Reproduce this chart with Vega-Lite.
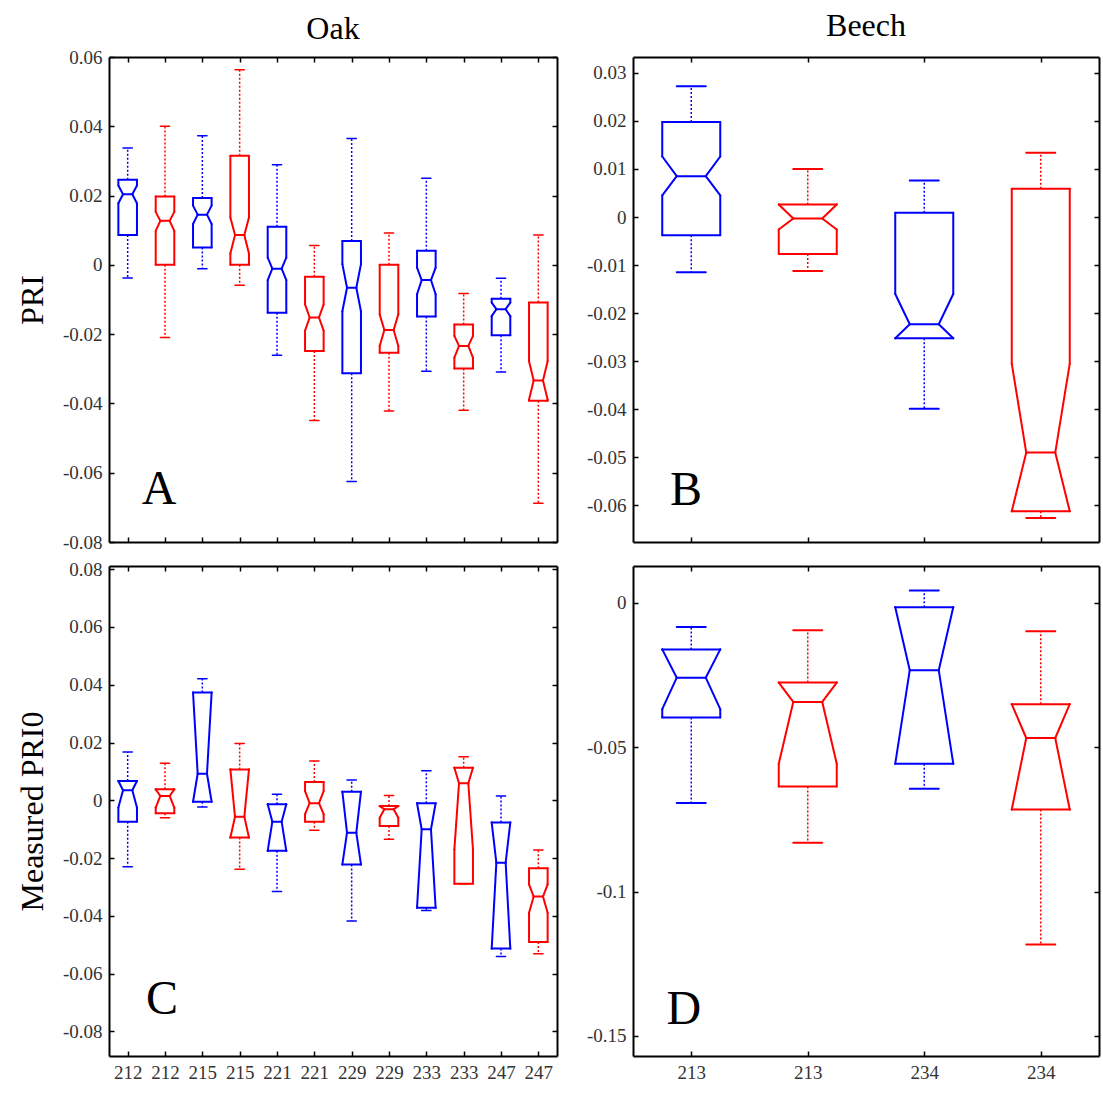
{
"$schema": "https://vega.github.io/schema/vega-lite/v6.json",
"background": "white",
"padding": {"left": 16, "top": 10, "right": 2, "bottom": 2},
"config": {
  "view": {"stroke": null},
  "axis": {"domainColor": "black", "domainWidth": 2, "tickColor": "black", "tickWidth": 1.5, "tickSize": -5, "grid": false,
    "labelFont": "Liberation Serif", "labelFontSize": 19, "labelColor": "#333333", "labelPadding": 12,
    "titleFont": "Liberation Serif", "titleFontSize": 32, "titleFontWeight": "normal", "titleColor": "black", "titlePadding": 13},
  "rule": {"strokeWidth": 2, "strokeCap": "round"},
  "title": {"font": "Liberation Serif", "fontSize": 32, "fontWeight": "normal", "color": "black", "anchor": "middle", "offset": 14}
},
"datasets": {
  "oak_pri": [
    {"pos": 1, "series": "S1", "wlo": -0.0038, "q1": 0.0086, "nlo": 0.0178, "med": 0.0204, "nhi": 0.0229, "q3": 0.0246, "whi": 0.0337},
    {"pos": 2, "series": "S2", "wlo": -0.0210, "q1": 0.0000, "nlo": 0.0098, "med": 0.0127, "nhi": 0.0153, "q3": 0.0197, "whi": 0.0400},
    {"pos": 3, "series": "S1", "wlo": -0.0011, "q1": 0.0050, "nlo": 0.0118, "med": 0.0145, "nhi": 0.0171, "q3": 0.0193, "whi": 0.0373},
    {"pos": 4, "series": "S2", "wlo": -0.0059, "q1": 0.0000, "nlo": 0.0033, "med": 0.0086, "nhi": 0.0137, "q3": 0.0315, "whi": 0.0563},
    {"pos": 5, "series": "S1", "wlo": -0.0261, "q1": -0.0138, "nlo": -0.0044, "med": -0.0011, "nhi": 0.0021, "q3": 0.0110, "whi": 0.0289},
    {"pos": 6, "series": "S2", "wlo": -0.0449, "q1": -0.0249, "nlo": -0.0190, "med": -0.0152, "nhi": -0.0114, "q3": -0.0034, "whi": 0.0056},
    {"pos": 7, "series": "S1", "wlo": -0.0625, "q1": -0.0313, "nlo": -0.0134, "med": -0.0066, "nhi": 0.0002, "q3": 0.0069, "whi": 0.0365},
    {"pos": 8, "series": "S2", "wlo": -0.0422, "q1": -0.0254, "nlo": -0.0234, "med": -0.0188, "nhi": -0.0143, "q3": 0.0000, "whi": 0.0092},
    {"pos": 9, "series": "S1", "wlo": -0.0307, "q1": -0.0149, "nlo": -0.0085, "med": -0.0044, "nhi": -0.0008, "q3": 0.0041, "whi": 0.0250},
    {"pos": 10, "series": "S2", "wlo": -0.0420, "q1": -0.0299, "nlo": -0.0268, "med": -0.0234, "nhi": -0.0205, "q3": -0.0172, "whi": -0.0083},
    {"pos": 11, "series": "S1", "wlo": -0.0309, "q1": -0.0203, "nlo": -0.0148, "med": -0.0128, "nhi": -0.0109, "q3": -0.0098, "whi": -0.0039},
    {"pos": 12, "series": "S2", "wlo": -0.0688, "q1": -0.0392, "nlo": -0.0389, "med": -0.0334, "nhi": -0.0278, "q3": -0.0109, "whi": 0.0086}
  ],
  "beech_pri": [
    {"pos": 1, "series": "S1", "wlo": -0.0115, "q1": -0.0038, "nlo": 0.0045, "med": 0.0085, "nhi": 0.0126, "q3": 0.0198, "whi": 0.0272},
    {"pos": 2, "series": "S2", "wlo": -0.0112, "q1": -0.0077, "nlo": -0.0026, "med": -0.0003, "nhi": 0.0026, "q3": 0.0026, "whi": 0.0100},
    {"pos": 3, "series": "S1", "wlo": -0.0399, "q1": -0.0252, "nlo": -0.0252, "med": -0.0223, "nhi": -0.0160, "q3": 0.0009, "whi": 0.0076},
    {"pos": 4, "series": "S2", "wlo": -0.0626, "q1": -0.0612, "nlo": -0.0612, "med": -0.0490, "nhi": -0.0305, "q3": 0.0059, "whi": 0.0134}
  ],
  "oak_pri0": [
    {"pos": 1, "series": "S1", "wlo": -0.0230, "q1": -0.0074, "nlo": -0.0025, "med": 0.0035, "nhi": 0.0067, "q3": 0.0067, "whi": 0.0167},
    {"pos": 2, "series": "S2", "wlo": -0.0060, "q1": -0.0045, "nlo": -0.0025, "med": 0.0015, "nhi": 0.0038, "q3": 0.0038, "whi": 0.0128},
    {"pos": 3, "series": "S1", "wlo": -0.0023, "q1": -0.0005, "nlo": -0.0005, "med": 0.0092, "nhi": 0.0373, "q3": 0.0373, "whi": 0.0421},
    {"pos": 4, "series": "S2", "wlo": -0.0239, "q1": -0.0129, "nlo": -0.0129, "med": -0.0057, "nhi": 0.0107, "q3": 0.0107, "whi": 0.0197},
    {"pos": 5, "series": "S1", "wlo": -0.0316, "q1": -0.0175, "nlo": -0.0175, "med": -0.0074, "nhi": -0.0014, "q3": -0.0014, "whi": 0.0021},
    {"pos": 6, "series": "S2", "wlo": -0.0104, "q1": -0.0074, "nlo": -0.0048, "med": -0.0010, "nhi": 0.0032, "q3": 0.0063, "whi": 0.0136},
    {"pos": 7, "series": "S1", "wlo": -0.0418, "q1": -0.0222, "nlo": -0.0222, "med": -0.0112, "nhi": 0.0030, "q3": 0.0030, "whi": 0.0070},
    {"pos": 8, "series": "S2", "wlo": -0.0135, "q1": -0.0089, "nlo": -0.0060, "med": -0.0031, "nhi": -0.0020, "q3": -0.0020, "whi": 0.0017},
    {"pos": 9, "series": "S1", "wlo": -0.0381, "q1": -0.0372, "nlo": -0.0372, "med": -0.0100, "nhi": -0.0010, "q3": -0.0010, "whi": 0.0102},
    {"pos": 10, "series": "S2", "wlo": -0.0289, "q1": -0.0289, "nlo": -0.0170, "med": 0.0059, "nhi": 0.0113, "q3": 0.0113, "whi": 0.0151},
    {"pos": 11, "series": "S1", "wlo": -0.0541, "q1": -0.0513, "nlo": -0.0513, "med": -0.0216, "nhi": -0.0077, "q3": -0.0077, "whi": 0.0015},
    {"pos": 12, "series": "S2", "wlo": -0.0531, "q1": -0.0490, "nlo": -0.0389, "med": -0.0333, "nhi": -0.0291, "q3": -0.0235, "whi": -0.0172}
  ],
  "beech_pri0": [
    {"pos": 1, "series": "S1", "wlo": -0.0693, "q1": -0.0397, "nlo": -0.0368, "med": -0.0259, "nhi": -0.0161, "q3": -0.0161, "whi": -0.0083},
    {"pos": 2, "series": "S2", "wlo": -0.0831, "q1": -0.0636, "nlo": -0.0557, "med": -0.0343, "nhi": -0.0276, "q3": -0.0276, "whi": -0.0095},
    {"pos": 3, "series": "S1", "wlo": -0.0644, "q1": -0.0557, "nlo": -0.0557, "med": -0.0233, "nhi": -0.0015, "q3": -0.0015, "whi": 0.0043},
    {"pos": 4, "series": "S2", "wlo": -0.1184, "q1": -0.0716, "nlo": -0.0716, "med": -0.0468, "nhi": -0.0351, "q3": -0.0351, "whi": -0.0098}
  ]
},
"columns": 2,
"bounds": "flush",
"spacing": {"row": 24, "column": 76},
"concat": [
{
  "width": 448, "height": 485,
  "title": {"text": "Oak", "offset": 2},
  "data": {"name": "oak_pri"},
  "encoding": {
    "x": {"field": "pos", "type": "quantitative", "scale": {"domain": [0.5, 12.5], "nice": false, "zero": false}, "axis": null},
    "color": {"field": "series", "type": "nominal", "scale": {"domain": ["S1", "S2"], "range": ["#0000ff", "#ff0000"]}, "legend": null}
  },
  "resolve": {"axis": {"x": "independent", "y": "independent"}},
  "layer": [
    {"mark": {"type": "rule", "strokeDash": [2, 2], "strokeWidth": 1.5, "strokeCap": "butt"},
     "encoding": {
       "x": {"field": "pos", "type": "quantitative", "scale": {"domain": [0.5, 12.5], "nice": false, "zero": false}, "axis": {"orient": "bottom", "values": [1,2,3,4,5,6,7,8,9,10,11,12], "labels": false, "title": null}},
       "y": {"field": "q3", "type": "quantitative", "scale": {"domain": [-0.08, 0.06], "nice": false, "zero": false}, "axis": {"orient": "left", "values": [-0.08,-0.06,-0.04,-0.02,0,0.02,0.04,0.06], "labelExpr": "'' + datum.value", "title": "PRI"}},
       "y2": {"field": "whi"}}},
    {"mark": {"type": "rule", "strokeDash": [2, 2], "strokeWidth": 1.5, "strokeCap": "butt"},
     "encoding": {
       "x": {"field": "pos", "type": "quantitative", "scale": {"domain": [0.5, 12.5], "nice": false, "zero": false}, "axis": {"orient": "top", "values": [1,2,3,4,5,6,7,8,9,10,11,12], "labels": false, "title": null}},
       "y": {"field": "q1", "type": "quantitative", "scale": {"domain": [-0.08, 0.06], "nice": false, "zero": false}, "axis": {"orient": "right", "values": [-0.08,-0.06,-0.04,-0.02,0,0.02,0.04,0.06], "labels": false, "title": null}},
       "y2": {"field": "wlo"}}},
    {"mark": {"type": "rule", "xOffset": -4.65, "x2Offset": 4.65, "strokeWidth": 1.5}, "encoding": {"x2": {"field": "pos"}, "y": {"field": "whi", "type": "quantitative", "axis": null}}},
    {"mark": {"type": "rule", "xOffset": -4.65, "x2Offset": 4.65, "strokeWidth": 1.5}, "encoding": {"x2": {"field": "pos"}, "y": {"field": "wlo", "type": "quantitative", "axis": null}}},
    {"mark": {"type": "rule", "xOffset": -9.3, "x2Offset": 9.3}, "encoding": {"x2": {"field": "pos"}, "y": {"field": "q3", "type": "quantitative", "axis": null}}},
    {"mark": {"type": "rule", "xOffset": -9.3, "x2Offset": 9.3}, "encoding": {"x2": {"field": "pos"}, "y": {"field": "q1", "type": "quantitative", "axis": null}}},
    {"mark": {"type": "rule", "xOffset": -4.65, "x2Offset": 4.65}, "encoding": {"x2": {"field": "pos"}, "y": {"field": "med", "type": "quantitative", "axis": null}}},
    {"mark": {"type": "rule", "xOffset": -9.3, "x2Offset": -9.3}, "encoding": {"x2": {"field": "pos"}, "y": {"field": "q3", "type": "quantitative", "axis": null}, "y2": {"field": "nhi"}}},
    {"mark": {"type": "rule", "xOffset": 9.3, "x2Offset": 9.3}, "encoding": {"x2": {"field": "pos"}, "y": {"field": "q3", "type": "quantitative", "axis": null}, "y2": {"field": "nhi"}}},
    {"mark": {"type": "rule", "xOffset": -9.3, "x2Offset": -9.3}, "encoding": {"x2": {"field": "pos"}, "y": {"field": "q1", "type": "quantitative", "axis": null}, "y2": {"field": "nlo"}}},
    {"mark": {"type": "rule", "xOffset": 9.3, "x2Offset": 9.3}, "encoding": {"x2": {"field": "pos"}, "y": {"field": "q1", "type": "quantitative", "axis": null}, "y2": {"field": "nlo"}}},
    {"mark": {"type": "rule", "xOffset": -9.3, "x2Offset": -4.65}, "encoding": {"x2": {"field": "pos"}, "y": {"field": "nhi", "type": "quantitative", "axis": null}, "y2": {"field": "med"}}},
    {"mark": {"type": "rule", "xOffset": 9.3, "x2Offset": 4.65}, "encoding": {"x2": {"field": "pos"}, "y": {"field": "nhi", "type": "quantitative", "axis": null}, "y2": {"field": "med"}}},
    {"mark": {"type": "rule", "xOffset": -9.3, "x2Offset": -4.65}, "encoding": {"x2": {"field": "pos"}, "y": {"field": "nlo", "type": "quantitative", "axis": null}, "y2": {"field": "med"}}},
    {"mark": {"type": "rule", "xOffset": 9.3, "x2Offset": 4.65}, "encoding": {"x2": {"field": "pos"}, "y": {"field": "nlo", "type": "quantitative", "axis": null}, "y2": {"field": "med"}}},
    {"data": {"values": [{"letter": "A", "lx": 1.84, "ly": -0.069}]},
     "mark": {"type": "text", "font": "Liberation Serif", "fontSize": 48, "align": "center", "baseline": "alphabetic"},
     "encoding": {"x": {"field": "lx", "type": "quantitative", "axis": null}, "y": {"field": "ly", "type": "quantitative", "axis": null}, "text": {"field": "letter"}, "color": {"value": "black"}}}
  ]
},
{
  "width": 466, "height": 485,
  "title": {"text": "Beech", "offset": 13},
  "data": {"name": "beech_pri"},
  "encoding": {
    "x": {"field": "pos", "type": "quantitative", "scale": {"domain": [0.5, 4.5], "nice": false, "zero": false}, "axis": null},
    "color": {"field": "series", "type": "nominal", "scale": {"domain": ["S1", "S2"], "range": ["#0000ff", "#ff0000"]}, "legend": null}
  },
  "resolve": {"axis": {"x": "independent", "y": "independent"}},
  "layer": [
    {"mark": {"type": "rule", "strokeDash": [2, 2], "strokeWidth": 1.5, "strokeCap": "butt"},
     "encoding": {
       "x": {"field": "pos", "type": "quantitative", "scale": {"domain": [0.5, 4.5], "nice": false, "zero": false}, "axis": {"orient": "bottom", "values": [1,2,3,4], "labels": false, "title": null}},
       "y": {"field": "q3", "type": "quantitative", "scale": {"domain": [-0.0676, 0.0333], "nice": false, "zero": false}, "axis": {"orient": "left", "values": [-0.06,-0.05,-0.04,-0.03,-0.02,-0.01,0,0.01,0.02,0.03], "labelExpr": "'' + datum.value", "title": null}},
       "y2": {"field": "whi"}}},
    {"mark": {"type": "rule", "strokeDash": [2, 2], "strokeWidth": 1.5, "strokeCap": "butt"},
     "encoding": {
       "x": {"field": "pos", "type": "quantitative", "scale": {"domain": [0.5, 4.5], "nice": false, "zero": false}, "axis": {"orient": "top", "values": [1,2,3,4], "labels": false, "title": null}},
       "y": {"field": "q1", "type": "quantitative", "scale": {"domain": [-0.0676, 0.0333], "nice": false, "zero": false}, "axis": {"orient": "right", "values": [-0.06,-0.05,-0.04,-0.03,-0.02,-0.01,0,0.01,0.02,0.03], "labels": false, "title": null}},
       "y2": {"field": "wlo"}}},
    {"mark": {"type": "rule", "xOffset": -14.5, "x2Offset": 14.5}, "encoding": {"x2": {"field": "pos"}, "y": {"field": "whi", "type": "quantitative", "axis": null}}},
    {"mark": {"type": "rule", "xOffset": -14.5, "x2Offset": 14.5}, "encoding": {"x2": {"field": "pos"}, "y": {"field": "wlo", "type": "quantitative", "axis": null}}},
    {"mark": {"type": "rule", "xOffset": -29, "x2Offset": 29}, "encoding": {"x2": {"field": "pos"}, "y": {"field": "q3", "type": "quantitative", "axis": null}}},
    {"mark": {"type": "rule", "xOffset": -29, "x2Offset": 29}, "encoding": {"x2": {"field": "pos"}, "y": {"field": "q1", "type": "quantitative", "axis": null}}},
    {"mark": {"type": "rule", "xOffset": -14.5, "x2Offset": 14.5}, "encoding": {"x2": {"field": "pos"}, "y": {"field": "med", "type": "quantitative", "axis": null}}},
    {"mark": {"type": "rule", "xOffset": -29, "x2Offset": -29}, "encoding": {"x2": {"field": "pos"}, "y": {"field": "q3", "type": "quantitative", "axis": null}, "y2": {"field": "nhi"}}},
    {"mark": {"type": "rule", "xOffset": 29, "x2Offset": 29}, "encoding": {"x2": {"field": "pos"}, "y": {"field": "q3", "type": "quantitative", "axis": null}, "y2": {"field": "nhi"}}},
    {"mark": {"type": "rule", "xOffset": -29, "x2Offset": -29}, "encoding": {"x2": {"field": "pos"}, "y": {"field": "q1", "type": "quantitative", "axis": null}, "y2": {"field": "nlo"}}},
    {"mark": {"type": "rule", "xOffset": 29, "x2Offset": 29}, "encoding": {"x2": {"field": "pos"}, "y": {"field": "q1", "type": "quantitative", "axis": null}, "y2": {"field": "nlo"}}},
    {"mark": {"type": "rule", "xOffset": -29, "x2Offset": -14.5}, "encoding": {"x2": {"field": "pos"}, "y": {"field": "nhi", "type": "quantitative", "axis": null}, "y2": {"field": "med"}}},
    {"mark": {"type": "rule", "xOffset": 29, "x2Offset": 14.5}, "encoding": {"x2": {"field": "pos"}, "y": {"field": "nhi", "type": "quantitative", "axis": null}, "y2": {"field": "med"}}},
    {"mark": {"type": "rule", "xOffset": -29, "x2Offset": -14.5}, "encoding": {"x2": {"field": "pos"}, "y": {"field": "nlo", "type": "quantitative", "axis": null}, "y2": {"field": "med"}}},
    {"mark": {"type": "rule", "xOffset": 29, "x2Offset": 14.5}, "encoding": {"x2": {"field": "pos"}, "y": {"field": "nlo", "type": "quantitative", "axis": null}, "y2": {"field": "med"}}},
    {"data": {"values": [{"letter": "B", "lx": 0.956, "ly": -0.0598}]},
     "mark": {"type": "text", "font": "Liberation Serif", "fontSize": 48, "align": "center", "baseline": "alphabetic"},
     "encoding": {"x": {"field": "lx", "type": "quantitative", "axis": null}, "y": {"field": "ly", "type": "quantitative", "axis": null}, "text": {"field": "letter"}, "color": {"value": "black"}}}
  ]
},
{
  "width": 448, "height": 490,
  "data": {"name": "oak_pri0"},
  "encoding": {
    "x": {"field": "pos", "type": "quantitative", "scale": {"domain": [0.5, 12.5], "nice": false, "zero": false}, "axis": null},
    "color": {"field": "series", "type": "nominal", "scale": {"domain": ["S1", "S2"], "range": ["#0000ff", "#ff0000"]}, "legend": null}
  },
  "resolve": {"axis": {"x": "independent", "y": "independent"}},
  "layer": [
    {"mark": {"type": "rule", "strokeDash": [2, 2], "strokeWidth": 1.5, "strokeCap": "butt"},
     "encoding": {
       "x": {"field": "pos", "type": "quantitative", "scale": {"domain": [0.5, 12.5], "nice": false, "zero": false}, "axis": {"orient": "bottom", "values": [1,2,3,4,5,6,7,8,9,10,11,12], "labelExpr": "['212','212','215','215','221','221','229','229','233','233','247','247'][datum.value - 1]", "title": null}},
       "y": {"field": "q3", "type": "quantitative", "scale": {"domain": [-0.0885, 0.0811], "nice": false, "zero": false}, "axis": {"orient": "left", "values": [-0.08,-0.06,-0.04,-0.02,0,0.02,0.04,0.06,0.08], "labelExpr": "'' + datum.value", "title": "Measured PRI0"}},
       "y2": {"field": "whi"}}},
    {"mark": {"type": "rule", "strokeDash": [2, 2], "strokeWidth": 1.5, "strokeCap": "butt"},
     "encoding": {
       "x": {"field": "pos", "type": "quantitative", "scale": {"domain": [0.5, 12.5], "nice": false, "zero": false}, "axis": {"orient": "top", "values": [1,2,3,4,5,6,7,8,9,10,11,12], "labels": false, "title": null}},
       "y": {"field": "q1", "type": "quantitative", "scale": {"domain": [-0.0885, 0.0811], "nice": false, "zero": false}, "axis": {"orient": "right", "values": [-0.08,-0.06,-0.04,-0.02,0,0.02,0.04,0.06,0.08], "labels": false, "title": null}},
       "y2": {"field": "wlo"}}},
    {"mark": {"type": "rule", "xOffset": -4.65, "x2Offset": 4.65, "strokeWidth": 1.5}, "encoding": {"x2": {"field": "pos"}, "y": {"field": "whi", "type": "quantitative", "axis": null}}},
    {"mark": {"type": "rule", "xOffset": -4.65, "x2Offset": 4.65, "strokeWidth": 1.5}, "encoding": {"x2": {"field": "pos"}, "y": {"field": "wlo", "type": "quantitative", "axis": null}}},
    {"mark": {"type": "rule", "xOffset": -9.3, "x2Offset": 9.3}, "encoding": {"x2": {"field": "pos"}, "y": {"field": "q3", "type": "quantitative", "axis": null}}},
    {"mark": {"type": "rule", "xOffset": -9.3, "x2Offset": 9.3}, "encoding": {"x2": {"field": "pos"}, "y": {"field": "q1", "type": "quantitative", "axis": null}}},
    {"mark": {"type": "rule", "xOffset": -4.65, "x2Offset": 4.65}, "encoding": {"x2": {"field": "pos"}, "y": {"field": "med", "type": "quantitative", "axis": null}}},
    {"mark": {"type": "rule", "xOffset": -9.3, "x2Offset": -9.3}, "encoding": {"x2": {"field": "pos"}, "y": {"field": "q3", "type": "quantitative", "axis": null}, "y2": {"field": "nhi"}}},
    {"mark": {"type": "rule", "xOffset": 9.3, "x2Offset": 9.3}, "encoding": {"x2": {"field": "pos"}, "y": {"field": "q3", "type": "quantitative", "axis": null}, "y2": {"field": "nhi"}}},
    {"mark": {"type": "rule", "xOffset": -9.3, "x2Offset": -9.3}, "encoding": {"x2": {"field": "pos"}, "y": {"field": "q1", "type": "quantitative", "axis": null}, "y2": {"field": "nlo"}}},
    {"mark": {"type": "rule", "xOffset": 9.3, "x2Offset": 9.3}, "encoding": {"x2": {"field": "pos"}, "y": {"field": "q1", "type": "quantitative", "axis": null}, "y2": {"field": "nlo"}}},
    {"mark": {"type": "rule", "xOffset": -9.3, "x2Offset": -4.65}, "encoding": {"x2": {"field": "pos"}, "y": {"field": "nhi", "type": "quantitative", "axis": null}, "y2": {"field": "med"}}},
    {"mark": {"type": "rule", "xOffset": 9.3, "x2Offset": 4.65}, "encoding": {"x2": {"field": "pos"}, "y": {"field": "nhi", "type": "quantitative", "axis": null}, "y2": {"field": "med"}}},
    {"mark": {"type": "rule", "xOffset": -9.3, "x2Offset": -4.65}, "encoding": {"x2": {"field": "pos"}, "y": {"field": "nlo", "type": "quantitative", "axis": null}, "y2": {"field": "med"}}},
    {"mark": {"type": "rule", "xOffset": 9.3, "x2Offset": 4.65}, "encoding": {"x2": {"field": "pos"}, "y": {"field": "nlo", "type": "quantitative", "axis": null}, "y2": {"field": "med"}}},
    {"data": {"values": [{"letter": "C", "lx": 1.92, "ly": -0.0739}]},
     "mark": {"type": "text", "font": "Liberation Serif", "fontSize": 48, "align": "center", "baseline": "alphabetic"},
     "encoding": {"x": {"field": "lx", "type": "quantitative", "axis": null}, "y": {"field": "ly", "type": "quantitative", "axis": null}, "text": {"field": "letter"}, "color": {"value": "black"}}}
  ]
},
{
  "width": 466, "height": 490,
  "data": {"name": "beech_pri0"},
  "encoding": {
    "x": {"field": "pos", "type": "quantitative", "scale": {"domain": [0.5, 4.5], "nice": false, "zero": false}, "axis": null},
    "color": {"field": "series", "type": "nominal", "scale": {"domain": ["S1", "S2"], "range": ["#0000ff", "#ff0000"]}, "legend": null}
  },
  "resolve": {"axis": {"x": "independent", "y": "independent"}},
  "layer": [
    {"mark": {"type": "rule", "strokeDash": [2, 2], "strokeWidth": 1.5, "strokeCap": "butt"},
     "encoding": {
       "x": {"field": "pos", "type": "quantitative", "scale": {"domain": [0.5, 4.5], "nice": false, "zero": false}, "axis": {"orient": "bottom", "values": [1,2,3,4], "labelExpr": "['213','213','234','234'][datum.value - 1]", "title": null}},
       "y": {"field": "q3", "type": "quantitative", "scale": {"domain": [-0.157, 0.0128], "nice": false, "zero": false}, "axis": {"orient": "left", "values": [-0.15,-0.1,-0.05,0], "labelExpr": "'' + datum.value", "title": null}},
       "y2": {"field": "whi"}}},
    {"mark": {"type": "rule", "strokeDash": [2, 2], "strokeWidth": 1.5, "strokeCap": "butt"},
     "encoding": {
       "x": {"field": "pos", "type": "quantitative", "scale": {"domain": [0.5, 4.5], "nice": false, "zero": false}, "axis": {"orient": "top", "values": [1,2,3,4], "labels": false, "title": null}},
       "y": {"field": "q1", "type": "quantitative", "scale": {"domain": [-0.157, 0.0128], "nice": false, "zero": false}, "axis": {"orient": "right", "values": [-0.15,-0.1,-0.05,0], "labels": false, "title": null}},
       "y2": {"field": "wlo"}}},
    {"mark": {"type": "rule", "xOffset": -14.5, "x2Offset": 14.5}, "encoding": {"x2": {"field": "pos"}, "y": {"field": "whi", "type": "quantitative", "axis": null}}},
    {"mark": {"type": "rule", "xOffset": -14.5, "x2Offset": 14.5}, "encoding": {"x2": {"field": "pos"}, "y": {"field": "wlo", "type": "quantitative", "axis": null}}},
    {"mark": {"type": "rule", "xOffset": -29, "x2Offset": 29}, "encoding": {"x2": {"field": "pos"}, "y": {"field": "q3", "type": "quantitative", "axis": null}}},
    {"mark": {"type": "rule", "xOffset": -29, "x2Offset": 29}, "encoding": {"x2": {"field": "pos"}, "y": {"field": "q1", "type": "quantitative", "axis": null}}},
    {"mark": {"type": "rule", "xOffset": -14.5, "x2Offset": 14.5}, "encoding": {"x2": {"field": "pos"}, "y": {"field": "med", "type": "quantitative", "axis": null}}},
    {"mark": {"type": "rule", "xOffset": -29, "x2Offset": -29}, "encoding": {"x2": {"field": "pos"}, "y": {"field": "q3", "type": "quantitative", "axis": null}, "y2": {"field": "nhi"}}},
    {"mark": {"type": "rule", "xOffset": 29, "x2Offset": 29}, "encoding": {"x2": {"field": "pos"}, "y": {"field": "q3", "type": "quantitative", "axis": null}, "y2": {"field": "nhi"}}},
    {"mark": {"type": "rule", "xOffset": -29, "x2Offset": -29}, "encoding": {"x2": {"field": "pos"}, "y": {"field": "q1", "type": "quantitative", "axis": null}, "y2": {"field": "nlo"}}},
    {"mark": {"type": "rule", "xOffset": 29, "x2Offset": 29}, "encoding": {"x2": {"field": "pos"}, "y": {"field": "q1", "type": "quantitative", "axis": null}, "y2": {"field": "nlo"}}},
    {"mark": {"type": "rule", "xOffset": -29, "x2Offset": -14.5}, "encoding": {"x2": {"field": "pos"}, "y": {"field": "nhi", "type": "quantitative", "axis": null}, "y2": {"field": "med"}}},
    {"mark": {"type": "rule", "xOffset": 29, "x2Offset": 14.5}, "encoding": {"x2": {"field": "pos"}, "y": {"field": "nhi", "type": "quantitative", "axis": null}, "y2": {"field": "med"}}},
    {"mark": {"type": "rule", "xOffset": -29, "x2Offset": -14.5}, "encoding": {"x2": {"field": "pos"}, "y": {"field": "nlo", "type": "quantitative", "axis": null}, "y2": {"field": "med"}}},
    {"mark": {"type": "rule", "xOffset": 29, "x2Offset": 14.5}, "encoding": {"x2": {"field": "pos"}, "y": {"field": "nlo", "type": "quantitative", "axis": null}, "y2": {"field": "med"}}},
    {"data": {"values": [{"letter": "D", "lx": 0.936, "ly": -0.146}]},
     "mark": {"type": "text", "font": "Liberation Serif", "fontSize": 48, "align": "center", "baseline": "alphabetic"},
     "encoding": {"x": {"field": "lx", "type": "quantitative", "axis": null}, "y": {"field": "ly", "type": "quantitative", "axis": null}, "text": {"field": "letter"}, "color": {"value": "black"}}}
  ]
}
]
}
